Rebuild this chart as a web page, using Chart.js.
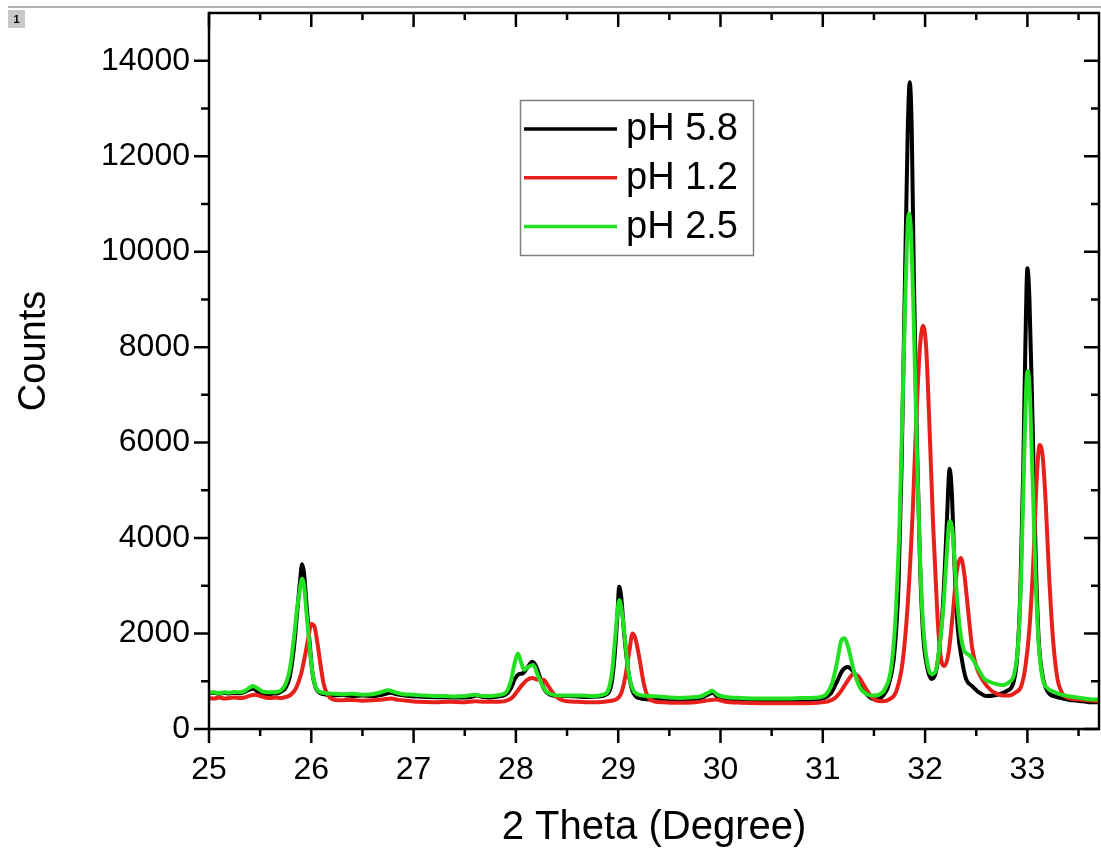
<!DOCTYPE html>
<html>
<head>
<meta charset="utf-8">
<script src="https://cdn.jsdelivr.net/npm/chart.js@4.4.0/dist/chart.umd.min.js"></script>
<style>
  html, body { margin: 0; padding: 0; background: #fff; }
  #wrap { width: 1101px; height: 854px; position: relative; }
</style>
</head>
<body>
<div id="wrap"><canvas id="xrdChart"></canvas></div>
<script>
const seriesLabels = ['pH 5.8', 'pH 1.2', 'pH 2.5'];
const seriesColors = ['#000000', '#e8201c', '#22e022'];
const xTicks = [25, 26, 27, 28, 29, 30, 31, 32, 33];
const xMinorTicks = [25.5, 26.5, 27.5, 28.5, 29.5, 30.5, 31.5, 32.5, 33.5];
const yTicks = [0, 2000, 4000, 6000, 8000, 10000, 12000, 14000];
const yMinorTicks = [1000, 3000, 5000, 7000, 9000, 11000, 13000];

// [2theta, counts]
const ph58 = [
  [25.00,750],[25.05,760],[25.10,740],[25.15,755],[25.20,745],[25.25,760],[25.30,750],[25.35,780],[25.40,830],[25.43,850],
  [25.47,790],[25.52,720],[25.57,730],[25.62,740],[25.67,750],[25.71,790],[25.75,870],[25.79,1100],[25.83,1700],[25.86,2400],
  [25.89,3100],[25.91,3450],[25.93,3250],[25.95,2700],[25.98,1900],[26.01,1200],[26.04,880],[26.08,760],[26.14,720],[26.20,700],
  [26.30,710],[26.40,690],[26.50,700],[26.60,690],[26.70,720],[26.77,760],[26.85,720],[26.95,690],[27.05,680],[27.15,670],
  [27.25,665],[27.35,660],[27.45,660],[27.55,665],[27.62,700],[27.68,670],[27.75,660],[27.82,680],[27.90,720],[27.95,850],
  [27.99,1050],[28.03,1150],[28.07,1170],[28.11,1280],[28.16,1410],[28.20,1300],[28.24,1050],[28.28,820],[28.33,720],[28.40,690],
  [28.50,690],[28.60,680],[28.70,670],[28.80,680],[28.88,720],[28.93,900],[28.96,1400],[28.99,2300],[29.01,2980],[29.03,2750],
  [29.06,1950],[29.10,1200],[29.14,800],[29.20,650],[29.30,620],[29.40,610],[29.50,600],[29.60,600],[29.70,610],[29.80,640],
  [29.88,720],[29.92,760],[29.97,680],[30.05,620],[30.15,600],[30.30,590],[30.45,590],[30.60,590],[30.75,600],[30.90,610],
  [31.00,640],[31.08,750],[31.14,1000],[31.19,1220],[31.24,1300],[31.30,1200],[31.35,1000],[31.41,780],[31.47,650],[31.52,620],
  [31.58,680],[31.64,900],[31.70,1600],[31.74,3000],[31.77,5500],[31.80,9000],[31.83,12500],[31.85,13550],[31.87,12500],[31.89,9500],
  [31.92,6000],[31.95,3500],[31.98,2000],[32.02,1300],[32.06,1050],[32.10,1150],[32.14,1700],[32.18,2800],[32.21,4200],[32.24,5450],
  [32.26,5000],[32.29,3300],[32.32,2100],[32.36,1450],[32.40,1050],[32.46,900],[32.53,760],[32.60,690],[32.67,700],[32.74,740],
  [32.80,800],[32.86,950],[32.90,1500],[32.93,2800],[32.96,5500],[32.98,8000],[33.00,9650],[33.02,9000],[33.05,6500],[33.08,3700],
  [33.11,1900],[33.15,1100],[33.20,780],[33.27,680],[33.35,640],[33.45,600],[33.55,580],[33.62,560],[33.70,560]
];
const ph12 = [
  [25.00,650],[25.05,640],[25.10,660],[25.15,640],[25.20,650],[25.25,660],[25.30,650],[25.35,660],[25.40,700],[25.45,720],
  [25.50,690],[25.55,660],[25.60,650],[25.65,660],[25.70,650],[25.75,670],[25.80,720],[25.85,850],[25.90,1150],[25.94,1550],
  [25.97,1900],[26.00,2200],[26.03,2150],[26.06,1800],[26.09,1350],[26.12,950],[26.16,720],[26.20,630],[26.28,600],[26.40,610],
  [26.50,590],[26.60,600],[26.70,620],[26.78,640],[26.85,610],[26.95,590],[27.05,570],[27.20,560],[27.35,570],[27.50,560],
  [27.60,580],[27.70,570],[27.80,570],[27.90,590],[27.96,650],[28.01,780],[28.06,920],[28.11,1030],[28.16,1070],[28.22,1030],
  [28.27,1030],[28.31,920],[28.36,760],[28.42,640],[28.50,580],[28.60,570],[28.70,560],[28.80,560],[28.90,580],[28.98,620],
  [29.03,750],[29.07,1100],[29.11,1650],[29.14,2000],[29.17,1880],[29.21,1450],[29.25,950],[29.29,680],[29.35,580],[29.45,560],
  [29.60,550],[29.75,560],[29.88,600],[29.95,620],[30.05,570],[30.20,550],[30.40,540],[30.60,540],[30.80,540],[30.95,550],
  [31.05,580],[31.12,650],[31.18,800],[31.24,1000],[31.30,1150],[31.35,1100],[31.40,920],[31.46,720],[31.52,600],[31.58,580],
  [31.65,620],[31.72,800],[31.78,1400],[31.83,2600],[31.88,4600],[31.92,6800],[31.95,8000],[31.98,8450],[32.01,8000],[32.04,6500],
  [32.08,4200],[32.12,2400],[32.15,1550],[32.19,1320],[32.23,1600],[32.27,2400],[32.31,3300],[32.35,3580],[32.38,3300],[32.42,2500],
  [32.46,1700],[32.51,1250],[32.57,1000],[32.64,820],[32.70,740],[32.76,700],[32.82,700],[32.88,760],[32.94,900],[32.98,1300],
  [33.02,2100],[33.06,3600],[33.09,5200],[33.12,5950],[33.15,5700],[33.18,4700],[33.21,3300],[33.25,1900],[33.29,1100],[33.34,750],
  [33.40,650],[33.50,620],[33.60,600],[33.70,580]
];
const ph25 = [
  [25.00,760],[25.05,770],[25.10,750],[25.15,770],[25.20,760],[25.25,775],[25.30,770],[25.35,800],[25.40,870],[25.43,900],
  [25.47,860],[25.52,790],[25.57,770],[25.62,770],[25.67,780],[25.71,820],[25.75,950],[25.79,1250],[25.83,1900],[25.86,2500],
  [25.89,2950],[25.91,3150],[25.93,3000],[25.95,2500],[25.98,1800],[26.01,1200],[26.04,900],[26.08,780],[26.14,750],[26.20,740],
  [26.30,730],[26.40,740],[26.50,720],[26.60,730],[26.68,770],[26.75,810],[26.82,770],[26.90,730],[27.00,720],[27.10,700],
  [27.20,690],[27.30,690],[27.40,680],[27.50,690],[27.60,720],[27.68,690],[27.75,690],[27.82,710],[27.90,760],[27.95,1000],
  [27.99,1400],[28.02,1580],[28.05,1400],[28.08,1240],[28.12,1300],[28.17,1340],[28.21,1150],[28.25,950],[28.30,780],[28.36,720],
  [28.45,700],[28.55,700],[28.65,700],[28.75,690],[28.85,720],[28.90,800],[28.94,1200],[28.97,1900],[29.00,2600],[29.01,2700],
  [29.04,2400],[29.07,1800],[29.10,1200],[29.14,850],[29.20,720],[29.30,690],[29.40,680],[29.50,660],[29.60,650],[29.70,660],
  [29.80,680],[29.88,760],[29.92,800],[29.97,720],[30.05,670],[30.20,650],[30.35,640],[30.50,640],[30.65,640],[30.80,650],
  [30.95,660],[31.03,720],[31.09,950],[31.14,1400],[31.18,1850],[31.21,1900],[31.25,1700],[31.30,1250],[31.36,880],[31.42,740],
  [31.49,700],[31.55,720],[31.61,850],[31.67,1300],[31.71,2300],[31.75,4300],[31.78,6800],[31.81,9300],[31.84,10800],[31.86,10500],
  [31.89,8500],[31.92,5800],[31.95,3600],[31.98,2200],[32.02,1400],[32.06,1150],[32.10,1200],[32.14,1700],[32.18,2600],[32.21,3600],
  [32.24,4350],[32.27,4100],[32.30,3100],[32.34,2100],[32.38,1650],[32.43,1550],[32.47,1450],[32.52,1250],[32.58,1050],[32.64,980],
  [32.70,940],[32.76,920],[32.82,980],[32.87,1150],[32.91,1800],[32.94,3300],[32.97,5800],[33.00,7500],[33.02,7200],[33.05,5300],
  [33.08,3200],[33.11,1800],[33.15,1050],[33.20,850],[33.26,780],[33.33,720],[33.42,680],[33.52,650],[33.62,620],[33.70,620]
];

const FONT = '"Liberation Sans", Arial, sans-serif';

const toPoints = arr => arr.map(p => ({ x: p[0], y: p[1] }));

const framePlugin = {
  id: 'frame',
  beforeDraw(chart) {
    const ctx = chart.ctx;
    ctx.save();
    ctx.fillStyle = '#fff';
    ctx.fillRect(0, 0, chart.width, chart.height);
    // window strip at the top
    ctx.strokeStyle = '#b4b4b4';
    ctx.lineWidth = 2;
    ctx.beginPath();
    ctx.moveTo(8, 7);
    ctx.lineTo(chart.width, 7);
    ctx.stroke();
    ctx.fillStyle = '#c8c8c8';
    ctx.fillRect(8, 10, 17, 18);
    ctx.fillStyle = '#000';
    ctx.font = 'bold 11px ' + FONT;
    ctx.textAlign = 'center';
    ctx.textBaseline = 'middle';
    ctx.fillText('1', 16.5, 19.5);
    ctx.restore();
  },
  afterDatasetsDraw(chart) {
    const { ctx, chartArea: a, scales: { x, y } } = chart;
    ctx.save();
    ctx.strokeStyle = '#000';
    ctx.lineWidth = 2.5;
    ctx.strokeRect(a.left, a.top, a.right - a.left, a.bottom - a.top);
    ctx.beginPath();
    const xt = (v, len) => {
      const px = x.getPixelForValue(v);
      ctx.moveTo(px, a.bottom); ctx.lineTo(px, a.bottom + len);
      ctx.moveTo(px, a.top); ctx.lineTo(px, a.top + len);
    };
    const yt = (v, len) => {
      const py = y.getPixelForValue(v);
      ctx.moveTo(a.left - len, py); ctx.lineTo(a.left, py);
      ctx.moveTo(a.right, py); ctx.lineTo(a.right - len, py);
    };
    xTicks.forEach(v => xt(v, 14));
    xMinorTicks.forEach(v => xt(v, 7));
    yTicks.forEach(v => yt(v, 15));
    yMinorTicks.forEach(v => yt(v, 8));
    ctx.stroke();

    // y axis title
    ctx.fillStyle = '#000';
    ctx.font = '38px ' + FONT;
    ctx.textAlign = 'center';
    ctx.textBaseline = 'middle';
    ctx.save();
    ctx.translate(35, 351);
    ctx.rotate(-Math.PI / 2);
    ctx.fillText('Counts', 0, 0);
    ctx.restore();

    // legend box
    ctx.fillStyle = '#fff';
    ctx.fillRect(520.5, 100.5, 233, 155);
    ctx.strokeStyle = '#808080';
    ctx.lineWidth = 1.5;
    ctx.strokeRect(520.5, 100.5, 233, 155);
    chart.data.datasets.forEach((ds, i) => {
      const ry = 129 + i * 48.7;
      ctx.strokeStyle = ds.borderColor;
      ctx.lineWidth = 3.5;
      ctx.beginPath();
      ctx.moveTo(524, ry);
      ctx.lineTo(617, ry);
      ctx.stroke();
      ctx.fillStyle = '#000';
      ctx.font = '38px ' + FONT;
      ctx.textAlign = 'left';
      ctx.textBaseline = 'middle';
      ctx.fillText(ds.label, 626, ry + 1);
    });
    ctx.restore();
  }
};

const ctx = document.getElementById('xrdChart').getContext('2d');
const xrdChart = new Chart(ctx, {
  type: 'line',
  data: {
    datasets: [
      { label: seriesLabels[0], data: toPoints(ph58), borderColor: seriesColors[0], order: 3 },
      { label: seriesLabels[1], data: toPoints(ph12), borderColor: seriesColors[1], order: 2 },
      { label: seriesLabels[2], data: toPoints(ph25), borderColor: seriesColors[2], order: 1 }
    ]
  },
  options: {
    responsive: true,
    maintainAspectRatio: false,
    animation: false,
    parsing: false,
    layout: { padding: { top: 13, right: 2, left: 0, bottom: 0 } },
    elements: {
      line: { borderWidth: 4, cubicInterpolationMode: 'monotone', fill: false },
      point: { radius: 0, hoverRadius: 0 }
    },
    plugins: {
      legend: { display: false },
      tooltip: { enabled: false }
    },
    scales: {
      x: {
        type: 'linear',
        min: 25,
        max: 33.7,
        grid: { display: false, drawTicks: false },
        border: { display: false },
        afterFit: s => { s.height = 125; s.paddingLeft = 0; s.paddingRight = 0; },
        afterBuildTicks: s => { s.ticks = xTicks.map(v => ({ value: v })); },
        ticks: {
          autoSkip: false,
          maxRotation: 0,
          padding: 22,
          color: '#000',
          font: { family: FONT, size: 32 },
          callback: v => String(v)
        },
        title: {
          display: true,
          text: '2 Theta (Degree)',
          color: '#000',
          font: { family: FONT, size: 40 },
          padding: { top: 0, bottom: 2 }
        }
      },
      y: {
        type: 'linear',
        min: 0,
        max: 15000,
        grid: { display: false, drawTicks: false },
        border: { display: false },
        afterFit: s => { s.width = 209; s.paddingTop = 0; s.paddingBottom = 0; },
        afterBuildTicks: s => { s.ticks = yTicks.map(v => ({ value: v })); },
        ticks: {
          autoSkip: false,
          padding: 19,
          color: '#000',
          font: { family: FONT, size: 32 },
          callback: v => String(v)
        }
      }
    }
  },
  plugins: [framePlugin]
});
</script>
</body>
</html>
